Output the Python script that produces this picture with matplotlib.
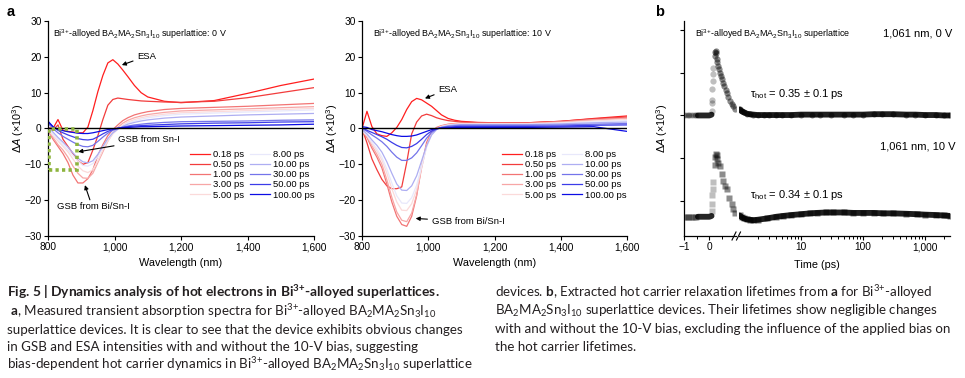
import matplotlib
matplotlib.use("Agg")
import matplotlib.pyplot as plt
from matplotlib.patches import Rectangle
from matplotlib.lines import Line2D
from matplotlib.ticker import NullFormatter, LogLocator

plt.rcParams.update({
    "font.family": ["Liberation Sans", "DejaVu Sans"],
    "mathtext.fontset": "custom",
    "mathtext.rm": "Liberation Sans",
    "mathtext.it": "Liberation Sans:italic",
    "mathtext.bf": "Lato:bold",
    "mathtext.default": "regular",
    "axes.linewidth": 0.9,
    "xtick.major.width": 0.8,
    "ytick.major.width": 0.8,
    "xtick.minor.width": 0.7,
    "xtick.direction": "out",
    "ytick.direction": "out",
})

# ---------------- data: panel a (transient absorption spectra) ----------------
wl = [800, 815, 830, 845, 860, 875, 890, 905, 920, 935, 950, 965, 980, 995,
      1010, 1025, 1040, 1060, 1080, 1100, 1150, 1200, 1300, 1400, 1500, 1600]
delays = ["0.18 ps", "0.50 ps", "1.00 ps", "3.00 ps", "5.00 ps",
          "8.00 ps", "10.00 ps", "30.00 ps", "50.00 ps", "100.00 ps"]
colors = ["#ff1e1e", "#f23c3c", "#f27474", "#f7a6a6", "#fbdada",
          "#e8e8fb", "#aeaef2", "#7474ea", "#3c3ce8", "#0c0ce4"]

bias0 = [
    [0.3, 0.0, 2.5, -0.5, -0.8, -1.0, -1.2, -1.2, 0.4, 5.0, 10.3, 14.8, 18.3, 19.2,
     18.0, 16.3, 14.5, 12.0, 10.0, 8.8, 7.6, 7.2, 7.8, 9.8, 12.0, 13.8],
    [0.0, -0.5, 1.0, -3.0, -5.0, -7.0, -9.0, -10.0, -9.5, -6.0, -2.0, 2.5, 6.5, 8.1,
     8.5, 8.3, 8.1, 7.9, 7.7, 7.6, 7.4, 7.3, 7.6, 8.6, 10.0, 11.4],
    [-0.5, -3.0, -5.0, -7.0, -9.5, -13.0, -15.2, -15.2, -14.0, -11.5, -7.5, -4.5, -2.0, -0.3,
     1.0, 2.2, 3.0, 3.8, 4.3, 4.7, 5.3, 5.6, 5.9, 6.2, 6.6, 7.0],
    [-0.5, -2.5, -4.5, -6.0, -8.0, -10.5, -12.5, -13.8, -13.9, -12.5, -9.5, -6.5, -3.5, -1.3,
     0.3, 1.5, 2.3, 3.0, 3.5, 3.9, 4.5, 4.9, 5.2, 5.5, 5.8, 6.1],
    [-0.3, -2.0, -3.5, -5.0, -6.5, -8.5, -10.5, -11.8, -12.3, -11.5, -9.0, -6.0, -3.5, -1.5,
     -0.2, 1.0, 1.8, 2.5, 3.0, 3.4, 4.0, 4.4, 4.7, 5.0, 5.3, 5.6],
    [0.0, -1.5, -3.0, -4.5, -6.0, -7.5, -9.0, -10.3, -10.5, -9.8, -7.8, -5.3, -3.0, -1.3,
     -0.2, 0.8, 1.5, 2.1, 2.6, 3.0, 3.6, 4.0, 4.3, 4.6, 4.9, 5.2],
    [0.5, -1.0, -2.5, -3.8, -5.2, -6.8, -8.3, -9.3, -9.6, -9.0, -7.2, -5.0, -2.8, -1.2,
     -0.2, 0.6, 1.2, 1.7, 2.1, 2.4, 2.9, 3.2, 3.5, 3.8, 4.0, 4.2],
    [1.5, 0.0, -1.2, -2.2, -3.0, -3.8, -4.5, -5.0, -5.1, -4.7, -3.6, -2.4, -1.3, -0.5,
     0.0, 0.4, 0.7, 1.0, 1.2, 1.4, 1.7, 1.9, 2.0, 2.1, 2.3, 2.4],
    [2.0, 0.5, -0.5, -1.2, -1.8, -2.3, -2.8, -3.1, -3.2, -3.0, -2.3, -1.5, -0.8, -0.3,
     0.0, 0.3, 0.5, 0.7, 0.8, 0.9, 1.1, 1.3, 1.5, 1.6, 1.8, 1.9],
    [2.0, 0.5, -0.3, -0.6, -0.9, -1.1, -1.3, -1.4, -1.4, -1.2, -0.9, -0.6, -0.3, -0.1,
     0.1, 0.2, 0.3, 0.4, 0.5, 0.5, 0.6, 0.7, 0.8, 0.9, 1.0, 1.2],
]

bias10 = [
    [0.0, 4.8, 0.5, -1.5, -2.0, -2.2, -1.2, 0.3, 2.5, 5.3, 7.5, 8.4, 8.0, 7.1,
     6.2, 5.0, 3.8, 2.8, 2.3, 2.0, 1.7, 1.6, 1.6, 2.0, 2.8, 3.5],
    [0.0, -4.0, -8.5, -11.5, -14.2, -16.0, -16.8, -16.8, -16.3, -9.5, -1.5, 1.8, 3.5, 4.0,
     3.6, 3.0, 2.6, 2.2, 2.0, 1.8, 1.6, 1.5, 1.6, 2.0, 2.7, 3.2],
    [-1.0, -2.5, -5.5, -8.0, -11.0, -15.5, -20.5, -24.5, -26.8, -27.3, -24.5, -18.8, -10.4, -3.9,
     -0.8, 0.3, 0.8, 1.2, 1.4, 1.5, 1.5, 1.5, 1.5, 1.9, 2.5, 3.0],
    [-0.8, -2.2, -4.8, -7.2, -10.0, -14.3, -19.2, -23.3, -25.6, -26.0, -23.6, -18.5, -11.0, -4.6,
     -1.2, 0.1, 0.7, 1.1, 1.3, 1.4, 1.4, 1.4, 1.4, 1.8, 2.4, 2.8],
    [-0.6, -2.0, -4.2, -6.3, -8.8, -12.5, -16.8, -20.5, -22.8, -22.9, -21.0, -17.0, -10.8, -5.0,
     -1.6, -0.1, 0.6, 1.0, 1.2, 1.3, 1.3, 1.3, 1.3, 1.6, 2.1, 2.5],
    [-0.5, -1.8, -3.8, -5.7, -8.0, -11.3, -15.2, -18.8, -20.8, -20.9, -19.3, -15.8, -10.5, -5.2,
     -1.8, -0.3, 0.5, 0.9, 1.1, 1.2, 1.2, 1.2, 1.2, 1.5, 1.9, 2.2],
    [-0.3, -1.5, -3.2, -4.7, -6.6, -9.3, -12.5, -15.5, -17.2, -17.3, -16.0, -13.2, -9.0, -4.8,
     -1.8, -0.3, 0.4, 0.8, 1.0, 1.1, 1.1, 1.1, 1.1, 1.3, 1.6, 1.8],
    [0.0, -0.8, -1.8, -2.7, -3.7, -5.0, -6.6, -8.0, -8.9, -8.9, -8.2, -6.8, -4.8, -2.7,
     -1.1, -0.2, 0.3, 0.6, 0.8, 0.9, 0.9, 0.9, 0.9, 1.0, 1.2, 1.4],
    [0.3, -0.5, -1.1, -1.7, -2.3, -3.0, -3.9, -4.7, -5.3, -5.4, -5.0, -4.2, -3.0, -1.7,
     -0.7, -0.1, 0.2, 0.4, 0.5, 0.6, 0.6, 0.6, 0.6, 0.7, 0.9, 1.0],
    [0.5, 0.3, -0.3, -0.6, -0.9, -1.3, -1.7, -2.0, -2.2, -2.2, -2.1, -1.8, -1.3, -0.8,
     -0.3, 0.0, 0.1, 0.2, 0.3, 0.3, 0.3, 0.3, 0.3, 0.4, 0.5, -0.8],
]

# ---------------- data: panel b (kinetics at 1,061 nm) ----------------
pre_t = [-1.0, -0.93, -0.86, -0.79, -0.72, -0.65, -0.58, -0.51]
pre_v = [0.0, 0.0, 0.0, 0.0, 0.0, 0.0, 0.0, 0.0]
base_t = [-0.45, -0.4, -0.35, -0.3, -0.25, -0.2, -0.15, -0.1, -0.05, 0.0, 0.05, 0.09]
base_v = [0.0, 0.0, 0.0, 0.0, 0.0, 0.0, 0.0, 0.0, 0.0, 0.0, 0.01, 0.02]

rise0_t = [0.10, 0.10, 0.11, 0.12, 0.13, 0.14, 0.15]
rise0_v = [0.10, 0.30, 0.37, 0.61, 0.80, 0.96, 1.12]
decay0_t = [0.21, 0.23, 0.25, 0.27, 0.29, 0.32, 0.36, 0.39, 0.42, 0.46, 0.50, 0.55,
            0.60, 0.65, 0.69, 0.75, 0.82, 0.88, 0.95, 1.02]
decay0_v = [1.40, 1.48, 1.50, 1.45, 1.32, 1.24, 1.15, 1.08, 1.00, 0.92, 0.85, 0.77,
            0.68, 0.60, 0.53, 0.43, 0.33, 0.27, 0.22, 0.14]
long0_t = [1.02, 1.1, 1.2, 1.35, 1.5, 1.7, 2.0, 2.5, 3, 4, 5, 7, 10, 15, 20, 30,
           50, 70, 100, 150, 200, 300, 500, 700, 1000, 1500, 2000, 2500]
long0_v = [0.14, 0.10, 0.07, 0.04, 0.03, 0.02, 0.01, 0.01, 0.01, 0.01, 0.01, 0.01,
           0.02, 0.02, 0.02, 0.02, 0.02, 0.02, 0.02, 0.03, 0.03, 0.03, 0.02, 0.02,
           0.01, 0.01, 0.0, 0.0]

rise10_t = [0.09, 0.10, 0.12, 0.13, 0.15]
rise10_v = [0.14, 0.31, 0.50, 0.66, 0.82]
decay10_t = [0.21, 0.23, 0.26, 0.29, 0.32, 0.36, 0.42, 0.49, 0.55, 0.62, 0.69, 0.79,
             0.88, 0.95, 1.02]
decay10_v = [1.22, 1.40, 1.48, 1.45, 1.35, 1.25, 1.18, 0.99, 0.83, 0.73, 0.64, 0.44,
             0.29, 0.17, 0.09]
long10_t = [1.02, 1.1, 1.2, 1.33, 1.5, 1.7, 2.0, 2.8, 4, 5.2, 7, 10, 14, 18, 25, 33,
            50, 70, 100, 150, 213, 300, 500, 735, 1000, 1500, 2000, 2500]
long10_v = [0.03, -0.01, -0.04, -0.06, -0.07, -0.08, -0.07, -0.04, 0.0, 0.02, 0.04,
            0.06, 0.08, 0.09, 0.10, 0.10, 0.10, 0.09, 0.09, 0.09, 0.08, 0.08, 0.07,
            0.06, 0.05, 0.04, 0.03, 0.02]

W, H = 965, 378
fig = plt.figure(figsize=(W / 100, H / 100), dpi=100)


def box(l, t, r, b):
    return [l / W, 1 - b / H, (r - l) / W, (b - t) / H]


def fx(px):
    return px / W


def fy(py):
    return 1 - py / H


compound = r"Bi$^{3{+}}$-alloyed BA$_2$MA$_2$Sn$_3$I$_{10}$ superlattice"
ylab = r"Δ$\mathit{A}$ (×10$^3$)"


def spectra(rect, curves, title, leg_x):
    ax = fig.add_axes(box(*rect))
    for lab, col, ys in zip(delays, colors, curves):
        ax.plot(wl, ys, color=col, lw=0.9, label=lab)
    ax.axhline(0, color="k", lw=1.0, zorder=5)
    ax.set_xlim(800, 1600)
    ax.set_ylim(-30, 30)
    ax.set_xticks([800, 1000, 1200, 1400, 1600])
    ax.set_xticklabels(["800", "1,000", "1,200", "1,400", "1,600"])
    ax.set_yticks([-30, -20, -10, 0, 10, 20, 30])
    ax.set_yticklabels(["−30", "−20", "−10", "0", "10", "20", "30"])
    ax.tick_params(labelsize=7.3, length=3, pad=1.5)
    for s in ("top", "right"):
        ax.spines[s].set_visible(False)
    ax.set_xlabel("Wavelength (nm)", fontsize=7.8, labelpad=4)
    ax.set_ylabel(ylab, fontsize=7.8, labelpad=-1)
    ax.text(0.0, 0.0, compound + ": " + title, fontsize=6.4, va="center",
            transform=ax.transData)
    ax.legend(loc="upper left", bbox_to_anchor=(fx(leg_x), fy(150)),
              bbox_transform=fig.transFigure, ncol=2, frameon=False,
              fontsize=6.8, handlelength=2.1, handletextpad=0.35,
              columnspacing=0.6, labelspacing=0.12, borderpad=0,
              borderaxespad=0)
    return ax


ax1 = spectra((48, 21, 314, 236), bias0, "0 V", 190)
ax1.texts[0].set_position((816, 26.4))
ax1.annotate("ESA", xy=(1022, 17.7), xytext=(1068, 20.2), fontsize=6.8,
             va="center", arrowprops=dict(arrowstyle="-|>", lw=0.8, color="k",
                                          mutation_scale=6, shrinkA=1, shrinkB=0))
ax1.annotate("GSB from Sn-I", xy=(891, -6.5), xytext=(1011, -3.2), fontsize=6.8,
             va="center", arrowprops=dict(arrowstyle="-|>", lw=0.8, color="k",
                                          mutation_scale=6, shrinkA=1, shrinkB=0))
ax1.annotate("", xy=(911, -15.8), xytext=(926, -19.9),
             arrowprops=dict(arrowstyle="-|>", lw=0.8, color="k",
                             mutation_scale=6, shrinkA=0, shrinkB=0))
ax1.text(826, -21.8, "GSB from Bi/Sn-I", fontsize=6.8, va="center")
ax1.add_patch(Rectangle((804, -11.6), 82, 11.6, fill=False, ec="#8db43e",
                        lw=2.6, ls=(0, (0.9, 0.9)), zorder=6))

ax2 = spectra((362, 21, 627, 236), bias10, "10 V", 502)
ax2.texts[0].set_position((834, 26.4))
ax2.annotate("ESA", xy=(990, 8.4), xytext=(1030, 10.9), fontsize=6.8,
             va="center", arrowprops=dict(arrowstyle="-|>", lw=0.8, color="k",
                                          mutation_scale=6, shrinkA=1, shrinkB=0))
ax2.annotate("GSB from Bi/Sn-I", xy=(962, -25.1), xytext=(1010, -26.0),
             fontsize=6.8, va="center",
             arrowprops=dict(arrowstyle="-|>", lw=0.8, color="k",
                             mutation_scale=6, shrinkA=1, shrinkB=0))

# ---------------- panel b: broken time axis ----------------
off0, off10 = 2.0, -0.37
ax3 = fig.add_axes(box(684, 21, 735.5, 236))
ax4 = fig.add_axes(box(738.5, 21, 950, 236), sharey=ax3)
ax3.set_xlim(-1, 1.036)
ax4.set_xscale("log")
ax4.set_xlim(0.98, 2530)
ax3.set_ylim(-0.82, 4.21)

for off, mk, rt, rv, dt, dv, lt, lv in [
        (off0, "o", rise0_t, rise0_v, decay0_t, decay0_v, long0_t, long0_v),
        (off10, "s", rise10_t, rise10_v, decay10_t, decay10_v, long10_t, long10_v)]:
    ax3.plot(pre_t, [v + off for v in pre_v], mk, ms=4.3, mfc="k", mec="none",
             alpha=0.3)
    ax3.plot(base_t, [v + off for v in base_v], "-", color="k", lw=4.2,
             alpha=0.85, solid_capstyle="round")
    ax3.plot(rt, [v + off for v in rv], mk, ms=4.5, mfc="k", mec="none", alpha=0.25)
    ax3.plot(dt, [v + off for v in dv], mk, ms=4.5, mfc="k", mec="none", alpha=0.45)
    ax4.plot(lt, [v + off for v in lv], "-", color="k", lw=4.2, alpha=0.88,
             solid_capstyle="round")
    ax4.plot(lt, [v + off for v in lv], mk, ms=4.3, mfc="k", mec="none", alpha=0.5)

ax3.set_yticks([0, 1, 2, 3, 4])
ax3.set_yticklabels([])
ax3.set_xticks([-1, 0])
ax3.set_xticklabels(["−1", "0"])
ax3.set_xticks([-0.5, 0.5], minor=True)
ax3.tick_params(which="both", labelsize=7.3, length=3, pad=1.5)
ax3.tick_params(which="minor", length=2)
for s in ("top", "right"):
    ax3.spines[s].set_visible(False)
for s in ("top", "right", "left"):
    ax4.spines[s].set_visible(False)
ax4.tick_params(axis="y", left=False, labelleft=False)
ax4.set_xticks([10, 100, 1000])
ax4.set_xticklabels(["10", "100", "1,000"])
ax4.xaxis.set_minor_locator(LogLocator(base=10, subs=(2, 3, 4, 5, 6, 7, 8, 9)))
ax4.xaxis.set_minor_formatter(NullFormatter())
ax4.tick_params(which="both", labelsize=7.3, pad=1.5)
ax4.tick_params(which="major", length=3)
ax4.tick_params(which="minor", length=2)

for x0 in (732.0, 736.5):
    fig.add_artist(Line2D([fx(x0), fx(x0 + 4)], [fy(240), fy(232)], color="k", lw=0.8))

fig.text(fx(662), fy(128), ylab, fontsize=7.8, rotation=90, ha="center", va="center")
fig.text(fx(817), fy(265), "Time (ps)", fontsize=7.8, ha="center", va="center")
fig.text(fx(695), fy(34), compound, fontsize=6.4, va="center")
fig.text(fx(952), fy(34), "1,061 nm, 0 V", fontsize=8, ha="right", va="center")
fig.text(fx(956), fy(147), "1,061 nm, 10 V", fontsize=8, ha="right", va="center")
fig.text(fx(750), fy(94), r"τ$_{\rm hot}$ = 0.35 ± 0.1 ps", fontsize=8, va="center")
fig.text(fx(750), fy(195), r"τ$_{\rm hot}$ = 0.34 ± 0.1 ps", fontsize=8, va="center")

fig.text(fx(7), fy(16), "a", fontsize=10.5, fontweight="bold")
fig.text(fx(655), fy(16), "b", fontsize=10.5, fontweight="bold")

# ---------------- caption ----------------
cap_font = ["Lato", "DejaVu Sans"]
title = r"Fig. 5 | Dynamics analysis of hot electrons in Bi$^{3{+}}$-alloyed superlattices."
left_lines = [
    r" $\mathbf{a}$, Measured transient absorption spectra for Bi$^{3{+}}$-alloyed BA$_2$MA$_2$Sn$_3$I$_{10}$",
    "superlattice devices. It is clear to see that the device exhibits obvious changes",
    "in GSB and ESA intensities with and without the 10-V bias, suggesting",
    r"bias-dependent hot carrier dynamics in Bi$^{3{+}}$-alloyed BA$_2$MA$_2$Sn$_3$I$_{10}$ superlattice",
]
right_lines = [
    r"devices. $\mathbf{b}$, Extracted hot carrier relaxation lifetimes from $\mathbf{a}$ for Bi$^{3{+}}$-alloyed",
    r"BA$_2$MA$_2$Sn$_3$I$_{10}$ superlattice devices. Their lifetimes show negligible changes",
    "with and without the 10-V bias, excluding the influence of the applied bias on",
    "the hot carrier lifetimes.",
]
renderer = fig.canvas.get_renderer()
t_title = fig.text(fx(7), fy(297), title, fontsize=10, fontweight="bold",
                   family=cap_font, va="baseline", color="#231f20")
t_title.set_fontsize(10 * 434 / t_title.get_window_extent(renderer).width)
body = []
for i, s in enumerate(left_lines):
    body.append(fig.text(fx(7), fy(316 + 17.7 * i), s, fontsize=10,
                         family=cap_font, va="baseline", color="#231f20"))
for i, s in enumerate(right_lines):
    body.append(fig.text(fx(495), fy(297 + 18 * i), s, fontsize=10,
                         family=cap_font, va="baseline", color="#231f20"))
scale = 456 / body[1].get_window_extent(renderer).width
for t in body:
    t.set_fontsize(10 * scale)

fig.savefig("out.png", dpi=100)
